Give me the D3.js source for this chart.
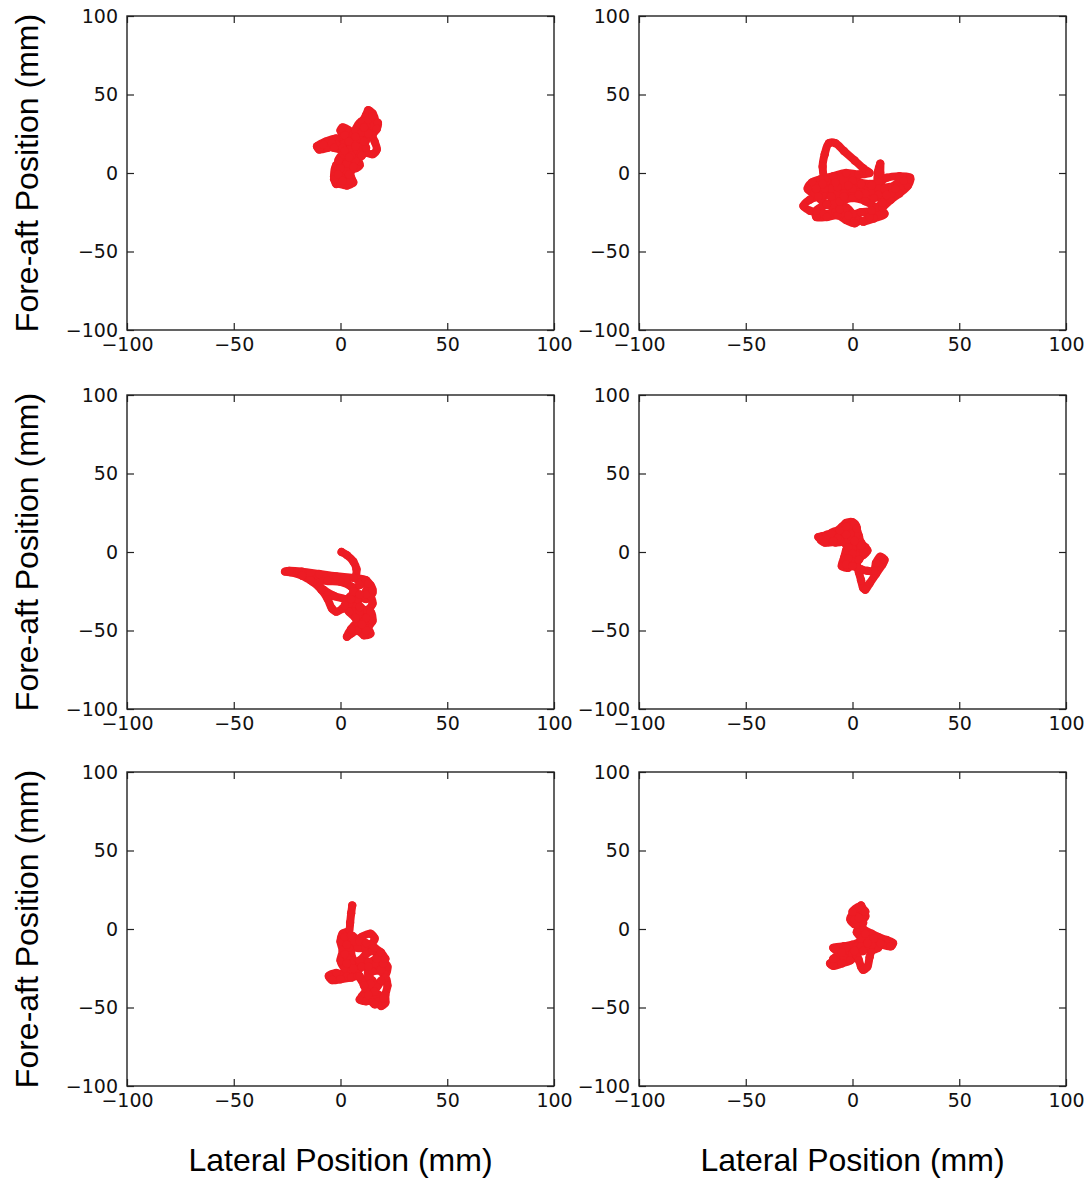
<!DOCTYPE html>
<html><head><meta charset="utf-8">
<script src="https://cdn.jsdelivr.net/npm/d3@7"></script>
<style>html,body{margin:0;padding:0;background:#fff;}svg{display:block;}</style>
</head><body>
<script>
// ---- data ----
const xTicks = [-100, -50, 0, 50, 100];
const yTicks = [-100, -50, 0, 50, 100];
const xLabel = "Lateral Position (mm)";
const yLabel = "Fore-aft Position (mm)";

// traces [lateral, fore-aft] in mm, one per panel (row-major)
const trace1 = [[2,-4],[-2,-7],[-3,-2],[-2,5],[2,9],[4,4],[5,-3],[6,-6],[3,-8],[0,-7],[-3,-4],[-1,3],[3,10],[6,15],[3,20],[-2,22],[-7,20],[-11,17],[-10,15],[-6,16],[-2,18],[2,19],[5,22],[4,27],[1,29],[0,27],[2,24],[6,25],[9,30],[12,37],[13,40],[15,38],[16,34],[14,30],[17.5,32],[17,28],[15,24],[16,20],[17,15],[15,12],[12,13],[9,15],[8,10],[9,5],[7,3],[5,7],[6,14],[8,20],[11,24],[12,21],[10,17],[6,19],[4,15],[1,12],[-1,8],[2,2],[1,-2],[4,-5],[3,1],[7,8],[10,11],[12,16],[9,22],[7,27],[10,33],[12,30],[10,26],[7,23],[4,20],[1,16],[-4,19],[-8,18],[-3,16],[2,14],[5,11],[3,6],[0,3],[-1,-1],[1,-5],[4,-1],[6,4],[4,10],[7,17],[11,20],[13,25],[11,29],[13,34],[15,36]];
const trace2 = [[-12,-5],[-8,-3],[0,-5],[8,-7],[13,-5],[13,0],[13,6],[12,1],[12,-6],[16,-3],[22,-2],[27,-3],[26,-6],[20,-8],[12,-10],[4,-12],[-4,-13],[-10,-10],[-13,-4],[-14,4],[-13,12],[-11,19],[-8,19],[-4,14],[1,8],[5,3],[8,0],[3,-1],[-3,0],[-9,-2],[-15,-4],[-19,-6],[-21,-10],[-18,-13],[-14,-14],[-20,-17],[-23,-21],[-20,-24],[-14,-26],[-8,-25],[-3,-22],[0,-26],[3,-30],[1,-32],[-3,-30],[-7,-27],[-12,-28],[-17,-28],[-17,-24],[-12,-20],[-6,-18],[0,-16],[6,-18],[11,-22],[15,-26],[10,-29],[5,-31],[8,-28],[14,-22],[18,-17],[22,-13],[26,-8],[27,-4],[24,-5],[18,-9],[12,-14],[6,-13],[0,-10],[-7,-9],[-13,-10],[-16,-15],[-12,-20],[-6,-23],[-2,-27],[4,-25],[9,-24],[14,-19],[18,-13],[15,-10],[9,-8],[4,-7],[-2,-8],[-8,-6],[-14,-7],[-17,-10],[-10,-15],[-4,-15],[3,-14],[10,-16],[16,-14],[20,-10]];
const trace3 = [[0.5,0],[3,-2],[6,-6],[7.5,-11],[7.5,-17],[10,-19],[14,-21],[15,-26],[12,-30],[8,-27],[5,-22],[0,-19],[-6,-18.5],[-12,-17.5],[-18,-15],[-23,-13],[-26,-12.5],[-24,-12],[-18,-12.5],[-10,-14],[-2,-15.5],[6,-16.5],[12,-18],[14,-22],[12,-25],[14,-28],[15,-33],[12,-37],[8,-33],[5,-28],[3,-32],[6,-38],[10,-42],[14,-38],[15,-44],[13,-48],[14,-52],[11,-53],[8,-50],[5,-52],[3,-54],[5,-49],[8,-45],[11,-47],[12,-50],[11,-44],[9,-38],[6,-33],[2,-30],[-3,-28],[-8,-24],[-13,-19],[-18,-15],[-14,-18],[-9,-24],[-6,-30],[-4,-36],[-2,-38],[1,-36],[4,-33],[8,-30],[12,-27],[15,-24],[13,-20],[9,-21],[6,-25],[9,-35],[12,-42],[10,-46],[7,-42],[4,-38],[2,-34],[5,-30],[9,-27]];
const trace4 = [[-14,10],[-16,9.5],[-12,11],[-8,13],[-5,16],[-3,18.5],[0,19],[1,16],[-2,13],[-5,10],[-9,8],[-12,8],[-8,6],[-4,7],[0,10],[2,14],[3,10],[4,6],[6,3],[7,1],[5,-2],[3,-2],[2,3],[-1,5],[-3,1],[-4,-4],[-5,-9],[-2,-10],[0,-6],[2,-8],[3,-13],[4,-18],[5,-23],[6,-24],[8,-20],[11,-14],[14,-8],[15,-5],[13,-3],[11,-7],[10,-12],[7,-12],[4,-11],[2,-10],[1,-5],[3,-1],[0,2],[-2,8],[-6,12],[-10,10],[-3,14],[-1,17],[2,12],[-1,10],[-4,12],[-8,10],[-11,9],[-6,8],[-2,3],[0,-1],[-2,-4],[-3,-8],[0,-9],[3,-5],[5,0],[4,4],[1,7],[-1,12],[-2,16],[1,18],[2,15],[-3,11],[-7,9],[-12,10],[-15,8],[-13,6],[-9,7],[-10,12],[-6,14],[-3,16]];
const trace5 = [[5.5,15],[5,10],[4.5,4],[4,-1],[1,-3],[0,-8],[1,-14],[0,-20],[2,-25],[5,-27],[8,-26],[6,-20],[5,-14],[7,-8],[10,-5],[14,-3],[16,-6],[14,-10],[11,-12],[8,-12],[6,-8],[4,-12],[3,-18],[5,-22],[9,-20],[12,-16],[15,-14],[18,-17],[20,-20],[22,-24],[21,-29],[18,-26],[16,-22],[13,-21],[10,-24],[7,-28],[3,-30],[-2,-28],[-5.5,-30],[-4,-32.5],[0,-32],[5,-31],[8,-30],[10,-33],[12,-38],[10,-43],[9,-45],[12,-46],[15,-45],[17,-42],[18,-46],[19,-49],[21,-47],[21,-42],[22,-36],[21,-31],[19,-33],[17,-37],[15,-33],[13,-30],[15,-27],[19,-26],[20,-22],[17,-19],[13,-24],[14,-35],[16,-40],[20,-44],[16,-48],[13,-42],[11,-36],[9,-30],[6,-25],[3,-22],[2,-16],[3,-10],[2,-5],[5,-4],[9,-8],[12,-9],[16,-12],[19,-15],[21,-19]];
const trace6 = [[4,15],[5,12],[3,10],[0,9],[-1,6],[1,3],[4,5],[6,8],[5,12],[3,13],[2,8],[2,3],[5,0],[9,-3],[12,-5],[16,-7],[19,-9],[18,-11],[14,-10],[11,-8],[8,-7],[4,-8],[0,-10],[-4,-11],[-9,-12],[-8,-13],[-3,-12],[2,-11],[3,-14],[0,-16],[-4,-18],[-8,-20],[-10.5,-22],[-9,-23.5],[-5,-22],[-1,-20],[2,-17],[3,-20],[4,-24],[5,-26],[7,-24],[8,-18],[9,-14],[12,-12],[13,-9],[9,-10],[6,-12],[4,-11],[4,-6],[2,-2],[5,4],[1,6],[0,11],[3,14],[6,11],[3,7],[6,-3],[10,-6],[7,-9],[5,-14],[1,-14],[-5,-15],[-9,-19]];
const traces = [trace1, trace2, trace3, trace4, trace5, trace6];

// ---- layout ----
const W = 1089, H = 1181;
const colX = [127, 639];
const rowY = [16, 395, 772];
const pw = 427, ph = 314;
const red = "#ED1C24";

const svg = d3.select("body").append("svg").attr("width", W).attr("height", H);

const x = d3.scaleLinear().domain([-100, 100]).range([0, pw]);
const y = d3.scaleLinear().domain([-100, 100]).range([ph, 0]);
const fmt = d3.format("d");

traces.forEach((tr, i) => {
  const r = Math.floor(i / 2), c = i % 2;
  const g = svg.append("g").attr("transform", `translate(${colX[c]},${rowY[r]})`);

  const line = d3.line().x(d => x(d[0])).y(d => y(d[1])).curve(d3.curveCatmullRom.alpha(0.5));
  g.append("path").datum(tr).attr("d", line)
    .attr("fill", "none").attr("stroke", red).attr("stroke-width", 8)
    .attr("stroke-linecap", "round").attr("stroke-linejoin", "round");
  g.selectAll("circle").data(tr).join("circle")
    .attr("cx", d => x(d[0])).attr("cy", d => y(d[1])).attr("r", 4.2).attr("fill", red);

  const tickStyle = sel => {
    sel.select(".domain").remove();
    sel.selectAll(".tick line").attr("stroke", "#222").attr("stroke-width", 1.2);
    sel.selectAll(".tick text").attr("font-family", "DejaVu Sans").attr("font-size", 19).attr("fill", "#111");
  };
  const xb = g.append("g").attr("transform", `translate(0,${ph})`)
    .call(d3.axisBottom(x).tickValues(xTicks).tickFormat(fmt).tickSizeInner(-7).tickSizeOuter(0).tickPadding(8));
  tickStyle(xb);
  xb.selectAll(".tick text").attr("dy", "0.71em");
  const yl = g.append("g")
    .call(d3.axisLeft(y).tickValues(yTicks).tickFormat(fmt).tickSizeInner(-7).tickSizeOuter(0).tickPadding(9));
  tickStyle(yl);
  const xt = g.append("g").call(d3.axisTop(x).tickValues(xTicks).tickSizeInner(-7).tickSizeOuter(0).tickFormat(""));
  tickStyle(xt);
  const yr = g.append("g").attr("transform", `translate(${pw},0)`)
    .call(d3.axisRight(y).tickValues(yTicks).tickSizeInner(-7).tickSizeOuter(0).tickFormat(""));
  tickStyle(yr);

  g.append("rect").attr("x", 0).attr("y", 0).attr("width", pw).attr("height", ph)
    .attr("fill", "none").attr("stroke", "#222").attr("stroke-width", 1.4);
});

rowY.forEach(ry => {
  svg.append("text")
    .attr("transform", `translate(38,${ry + ph / 2}) rotate(-90)`)
    .attr("text-anchor", "middle")
    .attr("font-family", "Liberation Sans, Arial, sans-serif").attr("font-size", 32)
    .attr("fill", "#000").text(yLabel);
});
colX.forEach(cx => {
  svg.append("text")
    .attr("x", cx + pw / 2).attr("y", 1171)
    .attr("text-anchor", "middle")
    .attr("font-family", "Liberation Sans, Arial, sans-serif").attr("font-size", 32)
    .attr("fill", "#000").text(xLabel);
});
</script>
</body></html>
